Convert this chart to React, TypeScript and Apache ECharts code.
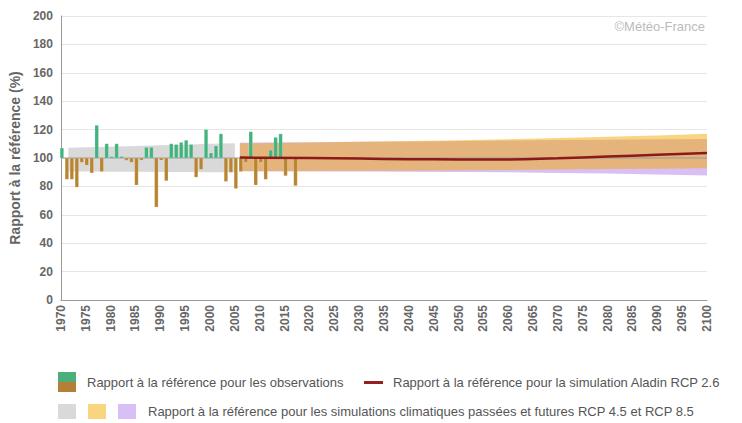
import React, { useEffect, useRef } from "react";
import * as echarts from "echarts";

// Observations (rapport à la référence, %)
const obsYears = [
  1970, 1971, 1972, 1973, 1974, 1975, 1976, 1977, 1978, 1979,
  1980, 1981, 1982, 1983, 1984, 1985, 1986, 1987, 1988, 1989,
  1990, 1991, 1992, 1993, 1994, 1995, 1996, 1997, 1998, 1999,
  2000, 2001, 2002, 2003, 2004, 2005, 2006, 2007, 2008, 2009,
  2010, 2011, 2012, 2013, 2014, 2015, 2016, 2017,
];
const obsValues = [
  107, 85, 85, 79.5, 97, 95, 89.5, 123, 90.5, 110,
  101, 110, 101, 98.5, 97, 81, 98.5, 107.5, 107.5, 65.5,
  98.5, 84, 110, 109.5, 111, 112.5, 109.5, 86.5, 92, 120,
  103.5, 108.5, 117, 83.5, 90, 78.5, 90.5, 97, 118.5, 81,
  97, 85, 105.5, 114.5, 117, 87.5, 100, 80.5,
];

// Simulations passées (gris)
const histYears = [1971.5, 1975, 1980, 1985, 1990, 1995, 2000, 2005];
const histLower = [90.5, 90.5, 90.4, 90.3, 90.2, 90.1, 90.0, 90.0];
const histUpper = [107.3, 107.6, 108.0, 108.4, 108.9, 109.4, 110.0, 110.3];

// Simulations futures
const futYears = [2006, 2020, 2030, 2040, 2050, 2060, 2070, 2080, 2090, 2100];
const yellowLower = [90.8, 90.9, 91.0, 91.1, 91.3, 91.6, 91.9, 92.2, 92.5, 92.8];
const yellowUpper = [110.3, 110.9, 111.4, 111.9, 112.5, 113.2, 114.0, 114.9, 115.9, 117.0];
const purpleLower = [90.6, 90.5, 90.5, 90.4, 90.2, 89.9, 89.5, 89.0, 88.3, 87.6];
const purpleUpper = [110.8, 111.1, 111.4, 111.7, 112.0, 112.3, 112.6, 112.9, 113.2, 113.4];

// Aladin RCP 2.6
const aladinValues = [100.3, 100.0, 99.6, 99.2, 99.0, 99.0, 99.8, 101.0, 102.3, 103.6];

const yTicks = { min: 0, max: 200, interval: 20 };
const xTicks = { min: 1970, max: 2100, interval: 5 };

const GREEN = "#41b37e";
const BROWN = "#b9842f";
const GRAY_BAND = "#d9d9d9";
const YELLOW_BAND = "rgba(243,170,0,0.49)";
const PURPLE_BAND = "#d8bff5";
const RED = "#8b1a1a";
const LABEL = "#666";
const FONT = "Arial, 'Liberation Sans', sans-serif";

function bandSeries(name: string, years: number[], lower: number[], upper: number[], fill: string, z: number) {
  return {
    name,
    type: "custom",
    z,
    silent: true,
    data: years.map((y, i) => [y, lower[i], upper[i]]),
    encode: { x: 0, y: [1, 2] },
    renderItem: (params: any, api: any) => {
      if (params.dataIndex !== 0) return null;
      const top = years.map((y, i) => api.coord([y, upper[i]]));
      const bottom = years.map((y, i) => api.coord([y, lower[i]])).reverse();
      return {
        type: "polygon",
        shape: { points: top.concat(bottom) },
        style: { fill, stroke: "none" },
      };
    },
  };
}

export default function App() {
  const ref = useRef<HTMLDivElement>(null);
  useEffect(() => {
    document.body.style.margin = "0";
    if (!ref.current) return;
    const chart = echarts.init(ref.current, null, { renderer: "svg" });
    const legendText = { fontSize: 13, fill: "#555", fontFamily: FONT };
    chart.setOption({
      animation: false,
      backgroundColor: "#fff",
      grid: { left: 59, right: 35, top: 16, bottom: 123, containLabel: false },
      xAxis: {
        type: "value",
        min: xTicks.min,
        max: xTicks.max,
        interval: xTicks.interval,
        axisLine: { show: true, lineStyle: { color: "#999", width: 1 } },
        axisTick: { show: false },
        splitLine: { show: false },
        axisLabel: {
          rotate: 90,
          margin: 5,
          color: LABEL,
          fontWeight: "bold",
          fontSize: 12,
          fontFamily: FONT,
          formatter: (v: number) => String(v),
        },
      },
      yAxis: {
        type: "value",
        min: yTicks.min,
        max: yTicks.max,
        interval: yTicks.interval,
        name: "Rapport à la référence (%)",
        nameLocation: "middle",
        nameGap: 38,
        nameTextStyle: { color: LABEL, fontWeight: "bold", fontSize: 14, fontFamily: FONT },
        axisLine: { show: true, lineStyle: { color: "#999", width: 1 } },
        axisTick: { show: false },
        splitLine: { show: true, lineStyle: { color: "#e6e6e6", width: 1 } },
        axisLabel: { color: LABEL, fontWeight: "bold", fontSize: 12, fontFamily: FONT, margin: 8 },
      },
      series: [
        bandSeries("hist", histYears, histLower, histUpper, GRAY_BAND, 1),
        bandSeries("rcp85", futYears, purpleLower, purpleUpper, PURPLE_BAND, 1),
        bandSeries("rcp45", futYears, yellowLower, yellowUpper, YELLOW_BAND, 1),
        {
          name: "ref",
          type: "line",
          z: 2,
          silent: true,
          symbol: "none",
          data: [[xTicks.min, 100], [xTicks.max, 100]],
          lineStyle: { color: "#999", width: 1 },
        },
        {
          name: "obs",
          type: "custom",
          z: 3,
          data: obsYears.map((y, i) => [y, obsValues[i]]),
          encode: { x: 0, y: 1 },
          renderItem: (params: any, api: any) => {
            const x = api.value(0) + 0.2;
            const v = api.value(1);
            const p0 = api.coord([x, 100]);
            const p1 = api.coord([x, v]);
            const w = api.size([0.7, 0])[0];
            return {
              type: "rect",
              shape: {
                x: p0[0] - w / 2,
                y: Math.min(p0[1], p1[1]),
                width: w,
                height: Math.abs(p1[1] - p0[1]),
              },
              style: { fill: v >= 100 ? GREEN : BROWN, stroke: "rgba(255,255,255,0.35)", lineWidth: 0.5 },
            };
          },
        },
        {
          name: "Aladin RCP 2.6",
          type: "line",
          z: 4,
          smooth: true,
          symbol: "none",
          data: futYears.map((y, i) => [y, aladinValues[i]]),
          lineStyle: { color: RED, width: 2.5 },
        },
      ],
      graphic: [
        {
          type: "text",
          right: 37,
          top: 20,
          style: { text: "©Météo-France", fontSize: 13, fill: "#bbb", fontFamily: FONT },
        },
        { type: "rect", shape: { x: 58, y: 372, width: 18, height: 10 }, style: { fill: "#4caf7a" } },
        { type: "rect", shape: { x: 58, y: 382, width: 18, height: 10 }, style: { fill: "#b48037" } },
        {
          type: "text",
          x: 87,
          y: 382,
          style: { ...legendText, text: "Rapport à la référence pour les observations", verticalAlign: "middle" },
        },
        { type: "line", shape: { x1: 364, y1: 382.5, x2: 383, y2: 382.5 }, style: { stroke: "#962020", lineWidth: 3 } },
        {
          type: "text",
          x: 393,
          y: 382,
          style: { ...legendText, text: "Rapport à la référence pour la simulation Aladin RCP 2.6", verticalAlign: "middle" },
        },
        { type: "rect", shape: { x: 58, y: 404, width: 18, height: 15 }, style: { fill: GRAY_BAND } },
        { type: "rect", shape: { x: 88, y: 404, width: 18, height: 15 }, style: { fill: "#f9d57f" } },
        { type: "rect", shape: { x: 118, y: 404, width: 18, height: 15 }, style: { fill: PURPLE_BAND } },
        {
          type: "text",
          x: 148,
          y: 411.5,
          style: {
            ...legendText,
            text: "Rapport à la référence pour les simulations climatiques passées et futures RCP 4.5 et RCP 8.5",
            verticalAlign: "middle",
          },
        },
      ],
    });
    return () => chart.dispose();
  }, []);
  return <div ref={ref} style={{ width: 742, height: 423 }} />;
}
